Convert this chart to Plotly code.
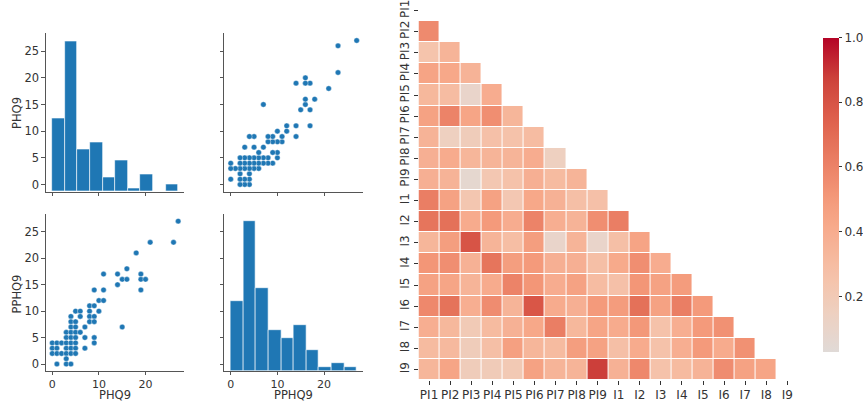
import numpy as np
import plotly.graph_objects as go

W, H = 863, 401

# ---------------- data ----------------
# paired observations (PHQ9, PPHQ9) read from the scatter panels (unique positions)
phq9 = [0, 0, 0,
        1, 1, 1, 1,
        2, 2,
        3, 3, 3, 3, 3, 3, 3,
        4, 4, 4, 4, 4, 4, 4, 4, 4,
        5, 5, 5, 5, 5, 5, 5, 5,
        6, 6, 6,
        7, 7, 7,
        8, 8, 8, 8,
        9, 9, 9, 9, 9, 9,
        10, 10,
        11, 11, 11,
        14, 14,
        15, 15,
        16, 16,
        18,
        19, 19, 19,
        20,
        21,
        26,
        27]
pphq9 = [4, 3, 2,
         4, 3, 2, 0,
         4, 2,
         6, 5, 4, 3, 2, 1, 0,
         9, 8, 7, 6, 5, 4, 3, 2, 0,
         10, 8, 7, 6, 5, 4, 3, 2,
         10, 9, 6,
         7, 5, 3,
         11, 10, 9, 8,
         14, 11, 9, 8, 5, 4,
         12, 10,
         17, 14, 12,
         17, 15,
         16, 7,
         18, 16,
         21,
         17, 16, 14,
         16,
         23,
         23,
         27]

# histogram bin counts (10 bins over the data range)
phq9_counts = [21, 43, 12, 14, 4, 9, 1, 5, 0, 2]
pphq9_counts = [17, 36, 20, 10, 8, 11, 5, 1, 2, 1]

# correlation heatmap (lower triangle, diagonal masked)
labels = ["PI1", "PI2", "PI3", "PI4", "PI5", "PI6", "PI7", "PI8", "PI9",
          "I1", "I2", "I3", "I4", "I5", "I6", "I7", "I8", "I9"]
r_PI1 = []
r_PI2 = [0.57]
r_PI3 = [0.25, 0.35]
r_PI4 = [0.45, 0.43, 0.36]
r_PI5 = [0.33, 0.30, 0.10, 0.40]
r_PI6 = [0.46, 0.60, 0.44, 0.55, 0.34]
r_PI7 = [0.36, 0.15, 0.18, 0.27, 0.26, 0.30]
r_PI8 = [0.38, 0.41, 0.34, 0.35, 0.35, 0.40, 0.15]
r_PI9 = [0.38, 0.36, 0.07, 0.22, 0.26, 0.38, 0.31, 0.35]
r_I1 = [0.62, 0.46, 0.23, 0.46, 0.22, 0.43, 0.37, 0.28, 0.27]
r_I2 = [0.66, 0.68, 0.41, 0.50, 0.40, 0.60, 0.39, 0.36, 0.55, 0.62]
r_I3 = [0.34, 0.48, 0.80, 0.35, 0.29, 0.48, 0.10, 0.35, 0.10, 0.28, 0.45]
r_I4 = [0.52, 0.55, 0.37, 0.66, 0.48, 0.50, 0.38, 0.38, 0.28, 0.42, 0.55, 0.40]
r_I5 = [0.46, 0.44, 0.35, 0.41, 0.60, 0.52, 0.40, 0.46, 0.30, 0.27, 0.52, 0.46, 0.49]
r_I6 = [0.58, 0.67, 0.39, 0.56, 0.35, 0.79, 0.41, 0.38, 0.50, 0.49, 0.68, 0.46, 0.62, 0.50]
r_I7 = [0.39, 0.33, 0.20, 0.31, 0.37, 0.43, 0.62, 0.33, 0.44, 0.41, 0.51, 0.26, 0.39, 0.50, 0.54]
r_I8 = [0.31, 0.32, 0.18, 0.28, 0.47, 0.34, 0.31, 0.48, 0.46, 0.28, 0.41, 0.26, 0.39, 0.50, 0.41, 0.54]
r_I9 = [0.34, 0.44, 0.18, 0.19, 0.21, 0.46, 0.35, 0.35, 0.88, 0.37, 0.58, 0.26, 0.31, 0.36, 0.56, 0.46, 0.44]
corr_rows = [r_PI1, r_PI2, r_PI3, r_PI4, r_PI5, r_PI6, r_PI7, r_PI8, r_PI9,
             r_I1, r_I2, r_I3, r_I4, r_I5, r_I6, r_I7, r_I8, r_I9]
cb_ticks = [0.2, 0.4, 0.6, 0.8, 1.0]

# ---------------- helpers ----------------
def px_x(p):
    return p / W

def px_y(p):
    return 1 - p / H

TEXT = "#333333"
AXC = "#555555"
BLUE = "#1f77b4"
FONT = "DejaVu Sans"

# coolwarm (upper half) anchors, seaborn-style centered at 0
cw_f = [0.5, 0.571, 0.625, 0.714, 0.75, 0.857, 0.875, 0.9375, 1.0]
cw_c = ["#dddcdc", "#edd1c2", "#f5c4ac", "#f7a889", "#f49a7b", "#e26952", "#de604d", "#cd423b", "#b40426"]

def hex2rgb(h):
    return [int(h[i:i + 2], 16) for i in (1, 3, 5)]

def coolwarm(f):
    rgbs = [hex2rgb(c) for c in cw_c]
    for i in range(len(cw_f) - 1):
        if cw_f[i] <= f <= cw_f[i + 1]:
            t = (f - cw_f[i]) / (cw_f[i + 1] - cw_f[i])
            c = [rgbs[i][k] + t * (rgbs[i + 1][k] - rgbs[i][k]) for k in range(3)]
            return "rgb(%d,%d,%d)" % tuple(round(v) for v in c)
    return cw_c[-1]

zmin, zmax = 0.03, 1.0
colorscale = []
for p in np.linspace(0, 1, 41):
    v = zmin + p * (zmax - zmin)
    colorscale.append([float(p), coolwarm((v + 1) / 2)])

n = len(labels)
z = [[(corr_rows[i][j] if j < i else None) for j in range(n)] for i in range(n)]

edges_phq = np.linspace(min(phq9), max(phq9), len(phq9_counts) + 1)
edges_pphq = np.linspace(min(pphq9), max(pphq9), len(pphq9_counts) + 1)

# ---------------- figure ----------------
fig = go.Figure()

# top-left: PHQ9 histogram on its own (hidden) count axes
fig.add_trace(go.Bar(
    x=(edges_phq[:-1] + edges_phq[1:]) / 2, y=phq9_counts,
    width=edges_phq[1] - edges_phq[0],
    marker=dict(color=BLUE, line=dict(color="white", width=0.6)),
    xaxis="x", yaxis="y", showlegend=False, hoverinfo="skip"))

# bottom-right: PPHQ9 histogram on its own (hidden) count axes
fig.add_trace(go.Bar(
    x=(edges_pphq[:-1] + edges_pphq[1:]) / 2, y=pphq9_counts,
    width=edges_pphq[1] - edges_pphq[0],
    marker=dict(color=BLUE, line=dict(color="white", width=0.6)),
    xaxis="x2", yaxis="y2", showlegend=False, hoverinfo="skip"))

# visible PHQ9 / PPHQ9 axes of the two diagonal panels (no marks of their own)
fig.add_trace(go.Scatter(x=[None], y=[None], mode="markers", xaxis="x3", yaxis="y3",
                         showlegend=False, hoverinfo="skip"))
fig.add_trace(go.Scatter(x=[None], y=[None], mode="markers", xaxis="x6", yaxis="y6",
                         showlegend=False, hoverinfo="skip"))

# top-right: PHQ9 vs PPHQ9
fig.add_trace(go.Scatter(
    x=pphq9, y=phq9, mode="markers",
    marker=dict(color=BLUE, size=5.5, line=dict(color="white", width=0.4)),
    xaxis="x4", yaxis="y4", showlegend=False))

# bottom-left: PPHQ9 vs PHQ9
fig.add_trace(go.Scatter(
    x=phq9, y=pphq9, mode="markers",
    marker=dict(color=BLUE, size=5.5, line=dict(color="white", width=0.4)),
    xaxis="x5", yaxis="y5", showlegend=False))

# heatmap
fig.add_trace(go.Heatmap(
    z=z, x=labels, y=labels, xaxis="x7", yaxis="y7",
    colorscale=colorscale, zmin=zmin, zmax=zmax,
    xgap=1, ygap=1, hoverongaps=False,
    colorbar=dict(
        x=px_x(822.7), xanchor="left", thickness=15.6, xpad=0, ypad=0,
        len=(351.7 - 37.3) / H, lenmode="fraction",
        y=px_y((351.7 + 37.3) / 2), yanchor="middle",
        outlinewidth=0, ticks="outside", ticklen=3.5, tickwidth=1,
        tickcolor=TEXT, tickvals=cb_ticks,
        ticktext=["%.1f" % t for t in cb_ticks],
        tickfont=dict(size=12, color=TEXT, family=FONT))))

rng = [-1.35, 28.35]
left_dom = [px_x(46), px_x(184.7)]
right_dom = [px_x(224.7), px_x(363.4)]
top_dom = [px_y(191.7), px_y(33.3)]
bot_dom = [px_y(371.2), px_y(214)]

def ax(domain, anchor, tickvals, labels_on, rng_=rng, tlen=3.5, fsize=11.5):
    return dict(domain=domain, anchor=anchor, range=rng_, tickvals=tickvals,
                showticklabels=labels_on, showline=True, linecolor=AXC,
                linewidth=1, ticks="outside", ticklen=tlen, tickcolor=AXC,
                showgrid=False, zeroline=False, layer="above traces",
                tickfont=dict(size=fsize, color=TEXT, family=FONT))

def hidden(domain, anchor, rng_):
    return dict(domain=domain, anchor=anchor, range=rng_, visible=False,
                showgrid=False, zeroline=False)

xt = [0, 10, 20]
yt = [0, 5, 10, 15, 20, 25]

fig.update_layout(
    width=W, height=H, margin=dict(l=0, r=0, t=0, b=0),
    paper_bgcolor="white", plot_bgcolor="rgba(0,0,0,0)",
    font=dict(family=FONT, color=TEXT, size=12),
    # histogram count axes (hidden)
    xaxis=hidden(left_dom, "y", rng),
    yaxis=hidden(top_dom, "x", [0, max(phq9_counts) * 1.05]),
    xaxis2=hidden(right_dom, "y2", rng),
    yaxis2=hidden(bot_dom, "x2", [0, max(pphq9_counts) * 1.05]),
    # visible pair-grid axes
    xaxis3=ax(left_dom, "y3", xt, False),
    yaxis3=ax(top_dom, "x3", yt, True),
    xaxis4=ax(right_dom, "y4", xt, False),
    yaxis4=ax(top_dom, "x4", yt, False),
    xaxis5=ax(left_dom, "y5", xt, True, tlen=3, fsize=11),
    yaxis5=ax(bot_dom, "x5", yt, True),
    xaxis6=ax(right_dom, "y6", xt, True, tlen=3, fsize=11),
    yaxis6=ax(bot_dom, "x6", yt, False),
    xaxis7=dict(domain=[px_x(419), px_x(798.8)], anchor="y7",
                range=[-0.5, n - 0.5], showgrid=False, zeroline=False,
                showline=False, ticks="outside", ticklen=3.5, tickcolor=TEXT,
                tickfont=dict(size=12, color=TEXT, family=FONT), tickangle=0),
    yaxis7=dict(domain=[px_y(380), px_y(0)], anchor="x7",
                range=[n - 0.5, -0.5], showgrid=False, zeroline=False,
                showline=False, ticks="outside", ticklen=3.5, tickcolor=TEXT,
                tickfont=dict(size=12, color=TEXT, family=FONT), tickangle=-90),
    bargap=0,
)

# axis titles
titles = [
    ("PHQ9", 16.5, 112.5, -90),
    ("PPHQ9", 17, 293.5, -90),
    ("PHQ9", 115.4, 394.5, 0),
    ("PPHQ9", 294, 394.5, 0),
]
for txt, x, y, ang in titles:
    fig.add_annotation(text=txt, x=px_x(x), y=px_y(y), xref="paper", yref="paper",
                       showarrow=False, textangle=ang, xanchor="center", yanchor="middle",
                       font=dict(size=11.5, color=TEXT, family=FONT))

fig.write_html("out.html", post_script="document.body.style.margin='0';",
               config={"displayModeBar": False})
